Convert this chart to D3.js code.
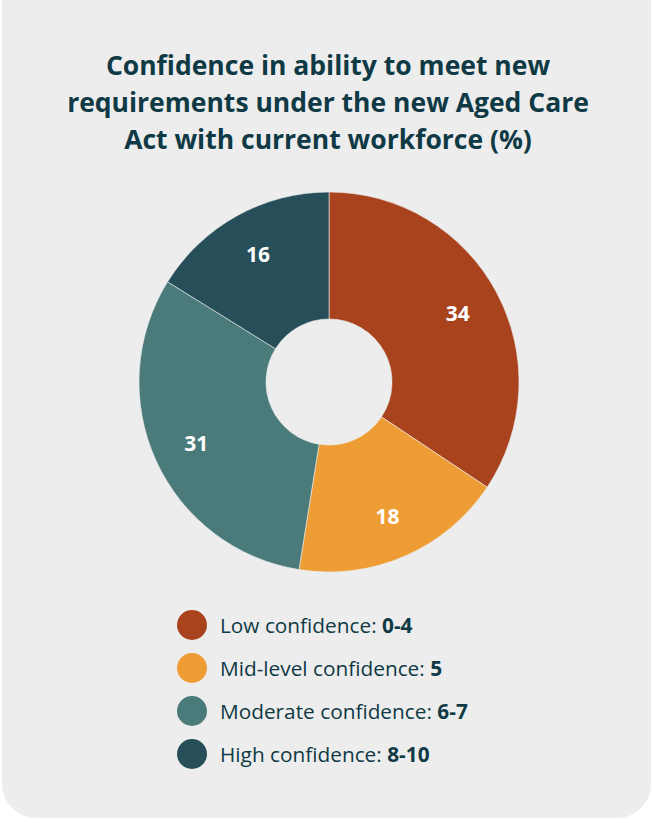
<!DOCTYPE html>
<html>
<head>
<meta charset="utf-8">
<script src="https://cdn.jsdelivr.net/npm/d3@7"></script>
<style>
  html, body { margin: 0; padding: 0; background: #ffffff; }
  svg { display: block; }
  text { font-family: "Open Sans", Lato, sans-serif; }
</style>
</head>
<body>
<svg id="chart" width="652" height="823"></svg>
<script>
// Share of respondents by confidence band (%)
const categories = ["Low confidence", "Mid-level confidence", "Moderate confidence", "High confidence"];
const ranges = ["0-4", "5", "6-7", "8-10"];
const values = [34, 18, 31, 16];
const colors = ["#a8431e", "#ee9d35", "#4a7a7a", "#264f5a"];
const titleLines = [
  "Confidence in ability to meet new",
  "requirements under the new Aged Care",
  "Act with current workforce (%)"
];

const svg = d3.select("#chart");
const ink = "#0f3a45";

// card background
svg.append("rect")
  .attr("x", 2).attr("y", -40)
  .attr("width", 649).attr("height", 858)
  .attr("rx", 34).attr("ry", 34)
  .attr("fill", "#ededed");

// title
svg.append("text")
  .attr("text-anchor", "middle")
  .attr("font-size", 26.5)
  .attr("font-weight", 700)
  .attr("fill", ink)
  .selectAll("tspan")
  .data(titleLines)
  .join("tspan")
  .attr("x", 328)
  .attr("y", (d, i) => 75 + i * 37)
  .text(d => d);

// donut
const cx = 329, cy = 382, rOuter = 190, rInner = 63;
const pie = d3.pie().sort(null).value(d => d)(values);
const arc = d3.arc().innerRadius(rInner).outerRadius(rOuter);
const g = svg.append("g").attr("transform", `translate(${cx},${cy})`);

g.selectAll("path")
  .data(pie)
  .join("path")
  .attr("d", arc)
  .attr("fill", (d, i) => colors[i])
  .attr("stroke", "#ededed")
  .attr("stroke-width", 0.6);

const labelArc = d3.arc().innerRadius(146).outerRadius(146);
g.selectAll("text.val")
  .data(pie)
  .join("text")
  .attr("class", "val")
  .attr("transform", d => `translate(${labelArc.centroid(d)})`)
  .attr("text-anchor", "middle")
  .attr("dy", "0.38em")
  .attr("font-size", 21)
  .attr("font-weight", 700)
  .attr("fill", "#ffffff")
  .text(d => d.data);

// legend
const legend = svg.append("g");
const rows = legend.selectAll("g")
  .data(categories)
  .join("g")
  .attr("transform", (d, i) => `translate(0,${625 + i * 43})`);

rows.append("circle")
  .attr("cx", 192).attr("cy", 0).attr("r", 15)
  .attr("fill", (d, i) => colors[i]);

const t = rows.append("text")
  .attr("x", 220).attr("y", 0).attr("dy", "0.36em")
  .attr("font-size", 20.8)
  .attr("fill", ink);
t.append("tspan").text(d => d + ": ");
t.append("tspan").attr("font-weight", 700).text((d, i) => ranges[i]);
</script>
</body>
</html>
